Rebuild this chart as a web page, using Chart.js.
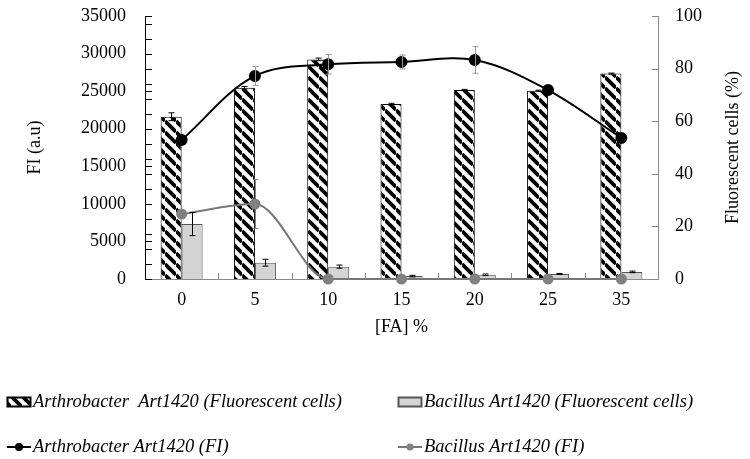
<!DOCTYPE html>
<html>
<head>
<meta charset="utf-8">
<script src="https://cdn.jsdelivr.net/npm/chart.js@4.4.0/dist/chart.umd.min.js"></script>
<style>
  html, body { margin: 0; padding: 0; background: #fff; }
  #wrap { width: 750px; height: 459px; }
</style>
</head>
<body>
<div id="wrap"><canvas id="faChart" width="750" height="459"></canvas></div>
<script>
// values
const concentrations = ['0', '5', '10', '15', '20', '25', '35'];
const arthroCells = [61.7, 72.7, 83.5, 66.5, 71.9, 71.6, 78.1];
const arthroCellsErr = [1.5, 0.5, 0.5, 0.3, 0.2, 0.2, 0.2];
const bacillusCells = [20.9, 6.2, 4.7, 1.1, 1.6, 1.9, 2.7];
const bacillusCellsErr = [4.4, 1.3, 0.6, 0.3, 0.3, 0.2, 0.3];
const arthroFI = [18500, 27020, 28570, 28880, 29150, 25150, 18770];
const arthroFIErr = [0, 1260, 1300, 930, 1770, 0, 0];
const bacillusFI = [8650, 9980, 0, 0, 0, 0, 0];
const bacillusFIErr = [0, 3260, 0, 0, 0, 0, 0];
const fiTicks = [0, 5000, 10000, 15000, 20000, 25000, 30000, 35000];
const cellTicks = [0, 20, 40, 60, 80, 100];

const serif = 'Liberation Serif';
const tickFont = { family: serif, size: 18 };

function hatch() {
  const s = 11;
  const c = document.createElement('canvas');
  c.width = c.height = s;
  const g = c.getContext('2d');
  g.fillStyle = '#fff';
  g.fillRect(0, 0, s, s);
  g.strokeStyle = '#000';
  g.lineWidth = 3.8;
  g.beginPath();
  for (const k of [-s, 0, s]) { g.moveTo(0, k); g.lineTo(s, k + s); }
  g.stroke();
  return g.createPattern(c, 'repeat');
}
const stripes = hatch();

// error bars for any dataset that has an "errors" array
const errorBars = {
  id: 'errorBars',
  afterDatasetsDraw(chart) {
    const ctx = chart.ctx;
    chart.data.datasets.forEach((ds, i) => {
      if (!ds.errors) return;
      const meta = chart.getDatasetMeta(i);
      const yScale = chart.scales[ds.yAxisID];
      ctx.save();
      ctx.strokeStyle = ds.errorColor;
      ctx.lineWidth = 1;
      meta.data.forEach((el, j) => {
        const e = ds.errors[j];
        if (!e) return;
        const x = Math.round(el.x) + 0.5;
        const y1 = yScale.getPixelForValue(ds.data[j] + e);
        const y2 = yScale.getPixelForValue(ds.data[j] - e);
        ctx.beginPath();
        ctx.moveTo(x, y1); ctx.lineTo(x, y2);
        ctx.moveTo(x - 3, y1); ctx.lineTo(x + 3, y1);
        ctx.moveTo(x - 3, y2); ctx.lineTo(x + 3, y2);
        ctx.stroke();
      });
      ctx.restore();
    });
  }
};

// inward tick marks, right axis title and the two-column legend
const decorations = {
  id: 'decorations',
  afterDraw(chart) {
    const ctx = chart.ctx;
    const { fi, cells, x } = chart.scales;
    const area = chart.chartArea;
    ctx.save();
    ctx.lineWidth = 1;

    ctx.strokeStyle = '#000';
    ctx.beginPath();
    for (let v = 0; v <= 35000; v += 1000) {
      if (v % 2000 && v % 5000) continue;
      const y = Math.round(fi.getPixelForValue(v)) + 0.5;
      ctx.moveTo(area.left, y); ctx.lineTo(area.left + 7, y);
    }
    ctx.stroke();

    ctx.strokeStyle = '#888';
    ctx.beginPath();
    cellTicks.forEach(v => {
      const y = Math.round(cells.getPixelForValue(v)) + 0.5;
      ctx.moveTo(area.right - 6, y); ctx.lineTo(area.right, y);
    });
    const half = (x.getPixelForValue(1) - x.getPixelForValue(0)) / 2;
    for (let i = 1; i < concentrations.length; i++) {
      const xx = Math.round(x.getPixelForValue(i) - half) + 0.5;
      ctx.moveTo(xx, area.bottom); ctx.lineTo(xx, area.bottom - 6);
    }
    ctx.stroke();

    ctx.fillStyle = '#000';
    ctx.font = '18px "' + serif + '"';
    ctx.textAlign = 'center';
    ctx.textBaseline = 'middle';
    ctx.translate(733, (area.top + area.bottom) / 2);
    ctx.rotate(-Math.PI / 2);
    ctx.fillText('Fluorescent cells (%)', 0, 0);
    ctx.restore();

    const items = chart.data.datasets;
    const spots = [
      { ds: items[2], x: 7, y: 402 },
      { ds: items[3], x: 398, y: 402 },
      { ds: items[0], x: 7, y: 447 },
      { ds: items[1], x: 398, y: 447 }
    ];
    ctx.save();
    ctx.font = 'italic 18.5px "' + serif + '"';
    ctx.textBaseline = 'middle';
    ctx.fillStyle = '#000';
    spots.forEach(s => {
      const ds = s.ds;
      if (ds.type === 'bar') {
        ctx.fillStyle = ds.backgroundColor;
        ctx.fillRect(s.x, s.y - 5, 24, 10);
        ctx.strokeStyle = ds.borderColor;
        ctx.strokeRect(s.x + 0.5, s.y - 4.5, 23, 9);
      } else {
        ctx.strokeStyle = ds.borderColor;
        ctx.lineWidth = 2;
        ctx.beginPath();
        ctx.moveTo(s.x, s.y); ctx.lineTo(s.x + 24, s.y);
        ctx.stroke();
        ctx.fillStyle = ds.pointBackgroundColor;
        ctx.beginPath();
        ctx.arc(s.x + 12, s.y, ds.pointRadius - 1, 0, Math.PI * 2);
        ctx.fill();
      }
      ctx.fillStyle = '#000';
      ctx.fillText(ds.label, s.x + 26, s.y);
    });
    ctx.restore();
  }
};

// fixed axis size, and no extra room asked for above/below the labels
function fixVertical(width) {
  return s => {
    s.width = width;
    s.paddingTop = 0;
    s.paddingBottom = 0;
  };
}

const ctx = document.getElementById('faChart').getContext('2d');
const faChart = new Chart(ctx, {
  data: {
    labels: concentrations,
    datasets: [
      {
        type: 'line',
        label: 'Arthrobacter Art1420 (FI)',
        data: arthroFI,
        errors: arthroFIErr,
        errorColor: '#999',
        yAxisID: 'fi',
        borderColor: '#000',
        borderWidth: 2,
        pointBackgroundColor: '#000',
        pointBorderColor: '#000',
        pointRadius: 5,
        tension: 0.35,
        clip: false,
        order: 0
      },
      {
        type: 'line',
        label: 'Bacillus Art1420 (FI)',
        data: bacillusFI,
        errors: bacillusFIErr,
        errorColor: '#888',
        yAxisID: 'fi',
        borderColor: '#777',
        borderWidth: 2,
        pointBackgroundColor: '#808080',
        pointBorderColor: '#808080',
        pointRadius: 4.5,
        cubicInterpolationMode: 'monotone',
        clip: false,
        order: 0
      },
      {
        type: 'bar',
        label: 'Arthrobacter  Art1420 (Fluorescent cells)',
        data: arthroCells,
        errors: arthroCellsErr,
        errorColor: '#000',
        yAxisID: 'cells',
        backgroundColor: stripes,
        borderColor: '#000',
        borderWidth: 1,
        barPercentage: 1,
        categoryPercentage: 0.573,
        order: 1
      },
      {
        type: 'bar',
        label: 'Bacillus Art1420 (Fluorescent cells)',
        data: bacillusCells,
        errors: bacillusCellsErr,
        errorColor: '#000',
        yAxisID: 'cells',
        backgroundColor: '#d4d4d4',
        borderColor: '#555',
        borderWidth: 1,
        barPercentage: 1,
        categoryPercentage: 0.573,
        order: 1
      }
    ]
  },
  options: {
    responsive: false,
    animation: false,
    layout: { padding: { top: 16, bottom: 120, left: 0, right: 0 } },
    plugins: { legend: { display: false }, tooltip: { enabled: false } },
    scales: {
      x: {
        grid: { display: false, drawTicks: false },
        border: { display: true, color: '#888' },
        ticks: { font: tickFont, color: '#000', padding: 10 },
        title: { display: true, text: '[FA] %', font: tickFont, color: '#000', padding: { top: 0, bottom: 1 } },
        afterFit: s => { s.height = 60; s.paddingLeft = 0; s.paddingRight = 0; }
      },
      fi: {
        position: 'left',
        min: 0,
        max: 35000,
        grid: { display: false, drawTicks: false },
        border: { display: true, color: '#000' },
        ticks: { font: tickFont, color: '#000', padding: 19, callback: v => String(v) },
        afterBuildTicks: s => { s.ticks = fiTicks.map(v => ({ value: v })); },
        title: { display: true, text: 'FI (a.u)', font: tickFont, color: '#000', padding: { top: 24, bottom: 0 } },
        afterFit: fixVertical(145)
      },
      cells: {
        position: 'right',
        min: 0,
        max: 100,
        grid: { display: false, drawTicks: false },
        border: { display: true, color: '#888' },
        ticks: { font: tickFont, color: '#000', padding: 17, callback: v => String(v) },
        afterBuildTicks: s => { s.ticks = cellTicks.map(v => ({ value: v })); },
        afterFit: fixVertical(92)
      }
    }
  },
  plugins: [errorBars, decorations]
});
</script>
</body>
</html>
